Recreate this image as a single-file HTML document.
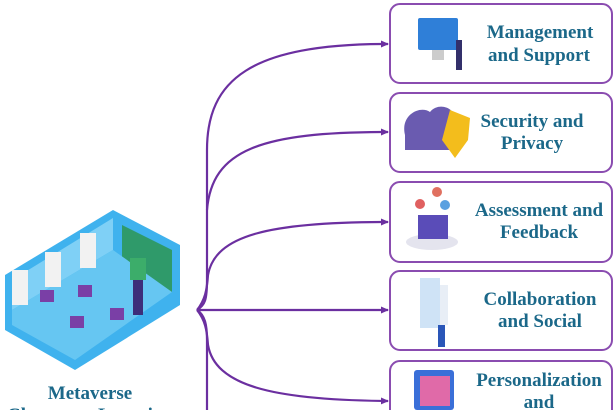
<!DOCTYPE html>
<html><head><style>
body{margin:0;width:615px;height:410px;overflow:hidden;background:#fff;}
.t{font-family:"Liberation Serif",serif;font-weight:bold;font-size:19px;fill:#1b6889;}
</style></head><body>
<svg width="615" height="410" viewBox="0 0 615 410" xmlns="http://www.w3.org/2000/svg">
<defs><marker id="a" markerWidth="8" markerHeight="8" refX="7" refY="4" orient="auto" markerUnits="userSpaceOnUse"><path d="M0,0.5 L8,4 L0,7.5z" fill="#6b2fa0"/></marker></defs>
<g fill="none" stroke="#6b2fa0" stroke-width="2.2">
<path d="M197 310 C205 305 207 300 207 280 L207 150 C207 80 250 44 388 44" marker-end="url(#a)"/>
<path d="M207 210 C212 150 260 132 388 132" marker-end="url(#a)"/>
<path d="M197 310 C205 300 207 290 208 275 C215 235 270 222 388 222" marker-end="url(#a)"/>
<path d="M197 310 L388 310" marker-end="url(#a)"/>
<path d="M197 310 C205 320 207 330 208 345 C215 385 270 400 388 401" marker-end="url(#a)"/>
<path d="M197 310 C205 315 207 325 207 340 L207 410"/>
</g>
<g fill="#fff" stroke="#8a4cb0" stroke-width="2">
<rect x="390" y="4" width="222" height="79" rx="10"/>
<rect x="390" y="93" width="222" height="79" rx="10"/>
<rect x="390" y="182" width="222" height="80" rx="10"/>
<rect x="390" y="271" width="222" height="79" rx="10"/>
<rect x="390" y="361" width="222" height="60" rx="10"/>
</g>
<rect x="418" y="18" width="40" height="32" rx="2" fill="#2f7fd8"/><rect x="432" y="50" width="12" height="10" fill="#ccc"/><rect x="456" y="40" width="6" height="30" fill="#33306b"/>
<path d="M405 135 C400 115 420 105 430 112 C440 100 460 110 455 125 L455 150 L405 150z" fill="#6a5bb0"/><path d="M450 110 L470 118 L468 140 L455 158 L442 140z" fill="#f3bd1c"/>
<ellipse cx="432" cy="242" rx="26" ry="8" fill="#e4e4ee"/><rect x="418" y="215" width="30" height="24" fill="#5a4cb8"/><circle cx="420" cy="204" r="5" fill="#e06060"/><circle cx="437" cy="192" r="5" fill="#e07060"/><circle cx="445" cy="205" r="5" fill="#5aa0e0"/>
<rect x="420" y="278" width="20" height="50" fill="#cfe3f6"/><rect x="440" y="285" width="8" height="40" fill="#e8eef6"/><rect x="438" y="325" width="7" height="22" fill="#2a56b8"/>
<rect x="414" y="370" width="40" height="40" rx="3" fill="#3a6fd8"/><rect x="420" y="376" width="30" height="30" fill="#e06aa8"/>
<text class="t" x="540" y="38" text-anchor="middle">Management</text>
<text class="t" x="539" y="61" text-anchor="middle">and Support</text>
<text class="t" x="532" y="127" text-anchor="middle">Security and</text>
<text class="t" x="532" y="149" text-anchor="middle">Privacy</text>
<text class="t" x="539" y="216" text-anchor="middle">Assessment and</text>
<text class="t" x="539" y="238" text-anchor="middle">Feedback</text>
<text class="t" x="540" y="305" text-anchor="middle">Collaboration</text>
<text class="t" x="540" y="327" text-anchor="middle">and Social</text>
<text class="t" x="539" y="386" text-anchor="middle">Personalization</text>
<text class="t" x="539" y="408" text-anchor="middle">and</text>
<path d="M5 275 L113 210 L180 245 L180 305 L75 370 L5 330z" fill="#3fb2ee"/>
<path d="M12 280 L113 218 L113 250 L12 310z" fill="#7fd0f6"/>
<path d="M122 225 L172 250 L172 292 L122 268z" fill="#2f9a6a"/>
<path d="M12 310 L113 250 L172 292 L75 360 L12 325z" fill="#66c6f2"/>
<g fill="#f2f2f2"><rect x="12" y="270" width="16" height="35"/><rect x="45" y="252" width="16" height="35"/><rect x="80" y="233" width="16" height="35"/></g>
<g fill="#7a3fa6"><rect x="40" y="290" width="14" height="12"/><rect x="78" y="285" width="14" height="12"/><rect x="70" y="316" width="14" height="12"/><rect x="110" y="308" width="14" height="12"/></g>
<rect x="133" y="265" width="10" height="50" fill="#3d2e7a"/><rect x="130" y="258" width="16" height="22" fill="#3cad6a"/>
<text class="t" x="90" y="399" text-anchor="middle">Metaverse</text>
<text class="t" x="90" y="421" text-anchor="middle">Classroom Learning</text>
</svg>
</body></html>
